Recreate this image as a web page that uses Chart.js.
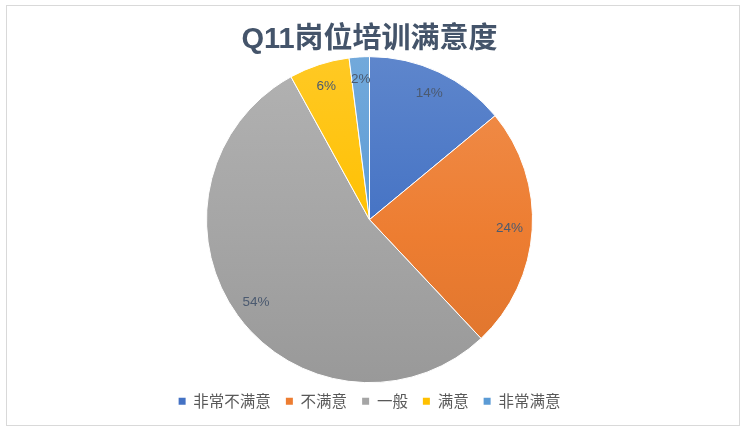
<!DOCTYPE html>
<html lang="zh">
<head>
<meta charset="utf-8">
<title>Q11岗位培训满意度</title>
<script src="https://cdn.jsdelivr.net/npm/chart.js@4.4.1/dist/chart.umd.min.js"></script>
<style>
  html, body { margin: 0; padding: 0; background: #fff; overflow: hidden; }
  #wrap { position: relative; width: 747px; height: 435px; }
  #frame { position: absolute; left: 6px; top: 5px; width: 732px; height: 419px; border: 1px solid #d9d9d9; pointer-events: none; }
</style>
</head>
<body>
<div id="wrap">
  <canvas id="chart"></canvas>
  <div id="frame"></div>
</div>
<script>
const categories = ["非常不满意", "不满意", "一般", "满意", "非常满意"];
const shares = [14, 24, 54, 6, 2];
const sliceColors = ["#4472C4", "#ED7D31", "#A5A5A5", "#FFC000", "#5B9BD5"];

const PIE_RADIUS = 163;
const CJK = '"Noto Sans CJK SC", sans-serif';

// amt > 0 mixes toward white, amt < 0 toward black
function shade(hex, amt) {
  const n = parseInt(hex.slice(1), 16);
  const t = amt < 0 ? 0 : 255, p = Math.abs(amt);
  const mix = (c) => Math.round(c + (t - c) * p);
  return `rgb(${mix(n >> 16)},${mix((n >> 8) & 255)},${mix(n & 255)})`;
}

// soft top-to-bottom gradient like the office chart style
function sliceFill(ctx) {
  const chart = ctx.chart;
  const area = chart.chartArea;
  const base = sliceColors[ctx.dataIndex];
  if (!area) return base;
  const cy = (area.top + area.bottom) / 2;
  const g = chart.ctx.createLinearGradient(0, cy - PIE_RADIUS, 0, cy + PIE_RADIUS);
  g.addColorStop(0, shade(base, 0.14));
  g.addColorStop(0.55, base);
  g.addColorStop(1, shade(base, -0.07));
  return g;
}

const sliceLabels = {
  id: "sliceLabels",
  afterDatasetsDraw(chart) {
    const { ctx } = chart;
    const meta = chart.getDatasetMeta(0);
    const values = chart.data.datasets[0].data;
    ctx.save();
    ctx.font = '13.5px "Liberation Sans", "Noto Sans", sans-serif';
    ctx.fillStyle = "#4B5A70";
    ctx.textAlign = "center";
    ctx.textBaseline = "middle";
    meta.data.forEach((arc, i) => {
      const { x, y, startAngle, endAngle, outerRadius } =
        arc.getProps(["x", "y", "startAngle", "endAngle", "outerRadius"], true);
      const mid = (startAngle + endAngle) / 2;
      const r = outerRadius * 0.86;
      ctx.fillText(values[i] + "%", x + Math.cos(mid) * r, y + Math.sin(mid) * r);
    });
    ctx.restore();
  }
};

new Chart(document.getElementById("chart"), {
  type: "pie",
  data: {
    labels: categories,
    datasets: [{
      data: shares,
      backgroundColor: sliceFill,
      borderColor: "#ffffff",
      borderWidth: 1,
      radius: PIE_RADIUS,
      clip: false
    }]
  },
  options: {
    responsive: true,
    maintainAspectRatio: false,
    animation: false,
    events: [],
    layout: { padding: { top: 0, right: 8, bottom: 16, left: 0 } },
    plugins: {
      title: {
        display: true,
        text: "Q11岗位培训满意度",
        color: "#44546A",
        font: { family: '"Liberation Sans", ' + CJK, size: 29, weight: "bold" },
        padding: { top: 23, bottom: 3 }
      },
      legend: {
        position: "bottom",
        labels: {
          boxWidth: 7,
          boxHeight: 7,
          padding: 15,
          color: "#595959",
          font: { family: CJK, size: 15.5 },
          generateLabels: (chart) => chart.data.labels.map((text, i) => ({
            text,
            fillStyle: sliceColors[i],
            strokeStyle: sliceColors[i],
            lineWidth: 0,
            fontColor: "#595959",
            hidden: false,
            index: i
          }))
        }
      },
      tooltip: { enabled: false }
    }
  },
  plugins: [sliceLabels]
});
</script>
</body>
</html>
